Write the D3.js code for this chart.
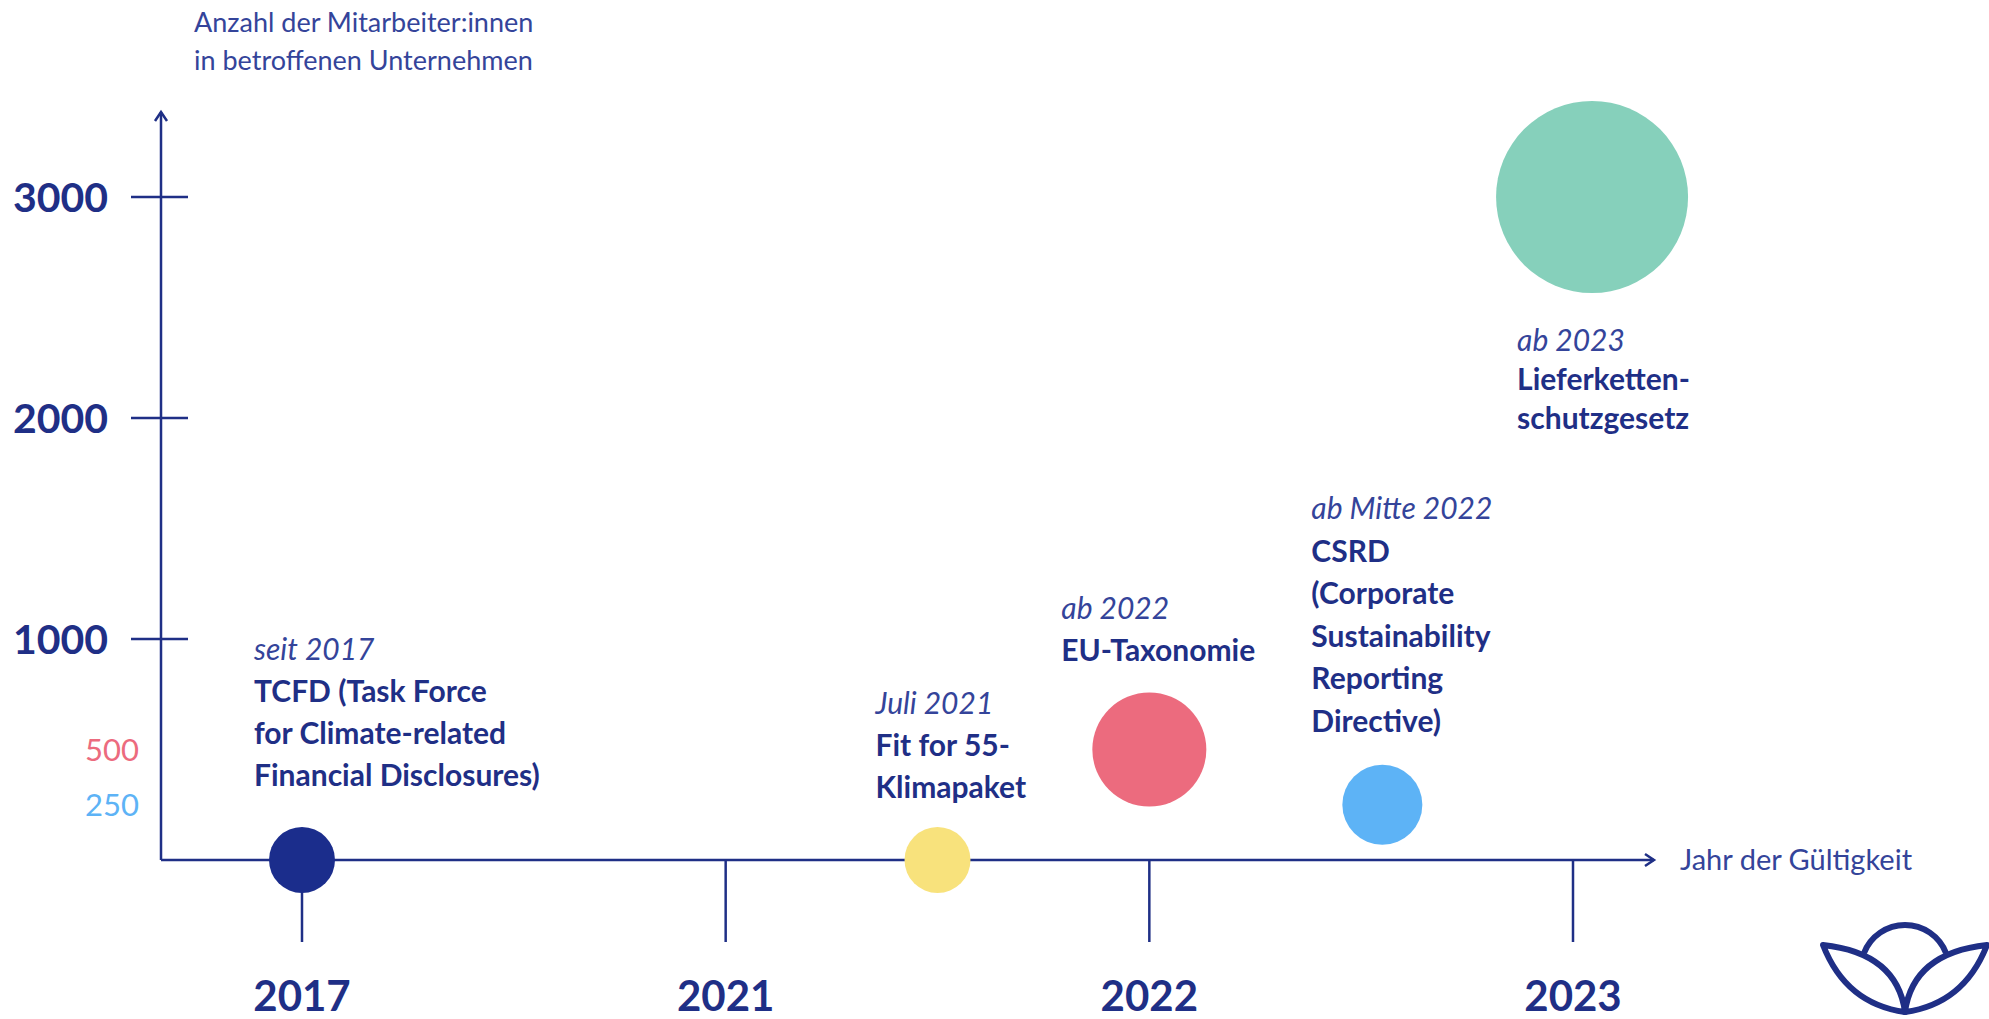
<!DOCTYPE html>
<html>
<head>
<meta charset="utf-8">
<script src="https://cdn.jsdelivr.net/npm/d3@7"></script>
<style>
  body { margin: 0; background: #fff; }
  svg { display: block; font-family: Lato, "Open Sans", sans-serif; }
</style>
</head>
<body>
<div id="chart"></div>
<script>
// Achsen
const yearLabels = ['2017', '2021', '2022', '2023'];
const yearValues = [2017, 2021, 2022, 2023];
const yTickValues = [1000, 2000, 3000];
const yMinorValues = [500, 250];

// Regulierungen
const eventDates = ['seit 2017', 'Juli 2021', 'ab 2022', 'ab Mitte 2022', 'ab 2023'];
const eventTitles = [
  ['TCFD (Task Force', 'for Climate-related', 'Financial Disclosures)'],
  ['Fit for 55-', 'Klimapaket'],
  ['EU-Taxonomie'],
  ['CSRD', '(Corporate', 'Sustainability', 'Reporting', 'Directive)'],
  ['Lieferketten-', 'schutzgesetz'],
];
const eventYears = [2017, 2021.5, 2022, 2022.55, 2023.045];
const eventEmployees = [0, 0, 500, 250, 3000];

const events = eventDates.map((d, i) => ({
  date: d,
  title: eventTitles[i],
  year: eventYears[i],
  value: eventEmployees[i],
}));

const W = 1989, H = 1019;
const navy = '#1f2f86';
const textNavy = '#34449a';
const colors = ['#1b2d8c', '#f8e27c', '#ec6b7e', '#5db3f6', '#86d0bb'];

// Position der Beschriftungen (dx zum Kreismittelpunkt, oben/unten)
const labelLayout = [
  { dx: -48, side: 'above', gap: 52, lh: 42 },
  { dx: -62, side: 'above', gap: 40, lh: 42 },
  { dx: -88, side: 'above', gap: 42, lh: 42 },
  { dx: -71, side: 'above', gap: 44, lh: 42.5 },
  { dx: -75, side: 'below', gap: 47, lh: 39 },
];

const axisX = 161, axisY = 860, yTop = 112, xEnd = 1654;

const svg = d3.select('#chart').append('svg')
  .attr('width', W).attr('height', H);

// Skalen
const xPoint = d3.scalePoint().domain(yearValues).range([302, 1573]);
const x = d3.scaleLinear().domain(yearValues).range(yearValues.map(xPoint));
const y = d3.scaleLinear().domain([0, 3000]).range([axisY, 197]);
const r = d3.scaleLinear().domain([0, 250, 500, 3000]).range([33, 40, 57, 96]);

// y-Achse
svg.append('line')
  .attr('x1', axisX).attr('x2', axisX)
  .attr('y1', axisY).attr('y2', yTop)
  .attr('stroke', navy).attr('stroke-width', 2.5);
svg.append('path')
  .attr('d', `M${axisX - 6},${yTop + 9}L${axisX},${yTop}L${axisX + 6},${yTop + 9}`)
  .attr('fill', 'none').attr('stroke', navy).attr('stroke-width', 2.5);

svg.selectAll('.y-tick')
  .data(yTickValues)
  .join('line')
  .attr('class', 'y-tick')
  .attr('x1', axisX - 30).attr('x2', axisX + 27)
  .attr('y1', (d) => y(d)).attr('y2', (d) => y(d))
  .attr('stroke', navy).attr('stroke-width', 2.5);

svg.selectAll('.y-label')
  .data(yTickValues)
  .join('text')
  .attr('class', 'y-label')
  .attr('x', 108).attr('y', (d) => y(d))
  .attr('dy', '0.36em')
  .attr('text-anchor', 'end')
  .attr('font-size', 41).attr('font-weight', 700)
  .attr('fill', navy)
  .text((d) => d);

svg.selectAll('.y-minor')
  .data(yMinorValues)
  .join('text')
  .attr('class', 'y-minor')
  .attr('x', 139).attr('y', (d) => y(d))
  .attr('dy', '0.36em')
  .attr('text-anchor', 'end')
  .attr('font-size', 31)
  .attr('fill', (d) => colors[eventEmployees.indexOf(d)])
  .text((d) => d);

svg.append('text')
  .attr('font-size', 27).attr('fill', textNavy)
  .selectAll('tspan')
  .data(['Anzahl der Mitarbeiter:innen', 'in betroffenen Unternehmen'])
  .join('tspan')
  .attr('x', 194).attr('y', (d, i) => 22 + i * 38)
  .attr('dy', '0.36em')
  .text((d) => d);

// x-Achse
svg.append('line')
  .attr('x1', axisX).attr('x2', xEnd)
  .attr('y1', axisY).attr('y2', axisY)
  .attr('stroke', navy).attr('stroke-width', 2.5);
svg.append('path')
  .attr('d', `M${xEnd - 9},${axisY - 6}L${xEnd},${axisY}L${xEnd - 9},${axisY + 6}`)
  .attr('fill', 'none').attr('stroke', navy).attr('stroke-width', 2.5);

svg.selectAll('.x-tick')
  .data(yearValues)
  .join('line')
  .attr('class', 'x-tick')
  .attr('x1', (d) => x(d)).attr('x2', (d) => x(d))
  .attr('y1', axisY).attr('y2', 942)
  .attr('stroke', navy).attr('stroke-width', 2.5);

svg.selectAll('.x-label')
  .data(yearValues)
  .join('text')
  .attr('class', 'x-label')
  .attr('x', (d) => x(d)).attr('y', 996)
  .attr('dy', '0.36em')
  .attr('text-anchor', 'middle')
  .attr('font-size', 42).attr('font-weight', 700)
  .attr('fill', navy)
  .text((d, i) => yearLabels[i]);

svg.append('text')
  .attr('x', 1680).attr('y', axisY).attr('dy', '0.36em')
  .attr('font-size', 29).attr('fill', textNavy)
  .text('Jahr der Gültigkeit');

// Kreise
svg.selectAll('.bubble')
  .data(events)
  .join('circle')
  .attr('class', 'bubble')
  .attr('cx', (d) => x(d.year))
  .attr('cy', (d) => y(d.value))
  .attr('r', (d) => r(d.value))
  .attr('fill', (d, i) => colors[i]);

// Beschriftungen
const labels = svg.selectAll('.label')
  .data(events)
  .join('text')
  .attr('class', 'label')
  .attr('font-size', 30);

labels.each(function (d, i) {
  const lay = labelLayout[i];
  const lines = [d.date].concat(d.title);
  const n = lines.length;
  const left = x(d.year) + lay.dx;
  const cy = y(d.value), rad = r(d.value);
  const first = lay.side === 'above'
    ? cy - rad - lay.gap - (n - 1) * lay.lh
    : cy + rad + lay.gap;
  d3.select(this).selectAll('tspan')
    .data(lines)
    .join('tspan')
    .attr('x', left)
    .attr('y', (t, j) => first + j * lay.lh)
    .attr('dy', '0.36em')
    .attr('font-style', (t, j) => (j === 0 ? 'italic' : 'normal'))
    .attr('font-weight', (t, j) => (j === 0 ? 400 : 700))
    .attr('fill', (t, j) => (j === 0 ? textNavy : navy))
    .text((t) => t);
});

// Logo
const logo = svg.append('g')
  .attr('fill', 'none').attr('stroke', navy)
  .attr('stroke-width', 6).attr('stroke-linejoin', 'round');
logo.append('path').attr('d', 'M1864,953A44,44 0 0 1 1946,953');
logo.append('path').attr('d', 'M1823,945Q1846,1004 1905,1012Q1897,953 1823,945Z');
logo.append('path').attr('d', 'M1987,945Q1964,1004 1905,1012Q1913,953 1987,945Z');
</script>
</body>
</html>
